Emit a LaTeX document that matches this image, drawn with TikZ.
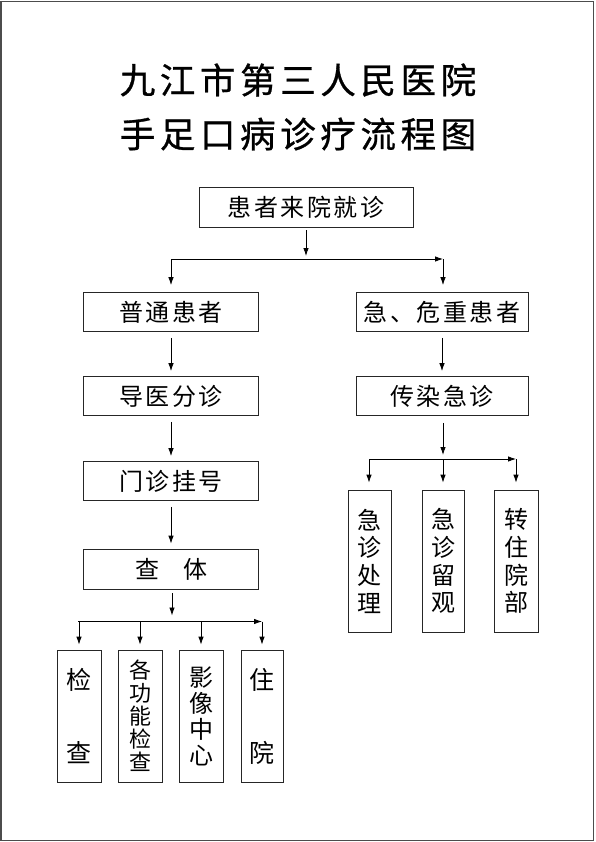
\documentclass[tikz,border=0pt]{standalone}
\usepackage{fontspec}
\setmainfont{Noto Sans CJK SC}
\newfontfamily\boxfont[LetterSpace=11]{Noto Sans CJK SC}
\newfontfamily\titlefont[LetterSpace=13,FakeBold=0.8]{Noto Sans CJK SC}
\usetikzlibrary{arrows.meta}

\begin{document}
\begin{tikzpicture}[x=1pt,y=-1pt,
  stepbox/.style={draw=black!85,line width=0.8pt,inner sep=0pt},
  widebox/.style={stepbox,minimum width=175pt,minimum height=39pt,
    font=\boxfont\fontsize{24}{28}\selectfont},
  tallbox/.style={stepbox,minimum width=44pt,align=center},
  flow/.style={-{Latex[length=8pt,width=5.5pt]},line width=0.8pt},
  title/.style={font=\titlefont\fontsize{35.5}{40}\selectfont}]
  \useasboundingbox (0,0) rectangle (595,842);
  \draw[black!70,line width=1.3pt] (1,1.5) rectangle (593.5,840.5);
  % title
  \node[title] (title1) at (298,80) {九江市第三人民医院};
  \node[title] (title2) at (298,134) {手足口病诊疗流程图};
  % first level
  \node[widebox,minimum width=214pt,minimum height=40pt] (visit) at (306,207) {患者来院就诊};
  \node[widebox] (common) at (171,312) {普通患者};
  \node[widebox,minimum width=172pt] (severe) at (442,312) {急、危重患者};
  % left column
  \node[widebox] (guide) at (171,396) {导医分诊};
  \node[widebox] (register) at (171,481) {门诊挂号};
  \node[widebox,minimum height=40pt] (exam) at (171,569) {查\hspace{1em}体};
  % right column
  \node[widebox,minimum width=172pt] (infect) at (442,396) {传染急诊};
  % bottom boxes
  \node[tallbox,minimum height=132pt,font=\fontsize{25}{73}\selectfont] (lab) at (79,716) {检\\查};
  \node[tallbox,minimum height=132pt,font=\fontsize{22}{23}\selectfont] (func) at (140,716) {各\\功\\能\\检\\查};
  \node[tallbox,minimum height=132pt,font=\fontsize{24}{26}\selectfont] (imaging) at (201,716) {影\\像\\中\\心};
  \node[tallbox,minimum height=132pt,minimum width=42pt,font=\fontsize{25}{73}\selectfont] (inpat) at (262,716) {住\\院};
  % emergency boxes
  \node[tallbox,minimum height=142pt,minimum width=43pt,font=\fontsize{24}{27.7}\selectfont] (emtreat) at (369.5,561) {急\\诊\\处\\理};
  \node[tallbox,minimum height=142pt,minimum width=42pt,font=\fontsize{24}{27.7}\selectfont] (emobs) at (443,561) {急\\诊\\留\\观};
  \node[tallbox,minimum height=142pt,font=\fontsize{24}{27.7}\selectfont] (transfer) at (516,561) {转\\住\\院\\部};
  % fork points
  \coordinate (fork1) at (306,259);
  \coordinate (fork1l) at (171,259);
  \coordinate (fork1r) at (443,259);
  \coordinate (fork2) at (443,459);
  \coordinate (fork2l) at (369,459);
  \coordinate (fork2r) at (516,459);
  \coordinate (fork3) at (172,621.5);
  \coordinate (fork3l) at (78,621.5);
  \coordinate (fork3r) at (262,621.5);
  % connectors
  \draw[flow,shorten <=3pt,shorten >=3pt] (visit.south) -- (fork1);
  \draw[flow] (fork1l) -- (fork1r);
  \draw[flow,shorten >=7pt] (fork1l) -- (fork1l |- common.north);
  \draw[flow,shorten >=7pt] (fork1r) -- (fork1r |- severe.north);
  \draw[flow,shorten <=6pt,shorten >=5pt] (common) -- (guide);
  \draw[flow,shorten <=6pt,shorten >=5pt] (guide) -- (register);
  \draw[flow,shorten <=6pt,shorten >=5pt] (register) -- (exam);
  \draw[flow,shorten <=6pt,shorten >=5pt] (severe) -- (infect);
  \draw[flow,shorten <=7pt,shorten >=4pt] (infect.south -| fork2) -- (fork2);
  \draw[flow] (fork2l) -- (fork2r);
  \foreach \b/\f in {emtreat/fork2l,emobs/fork2,transfer/fork2r}
    \draw[flow,shorten >=7pt] (\f) -- (\f |- \b.north);
  \draw[flow,shorten <=4pt,shorten >=6pt] (exam.south -| fork3) -- (fork3);
  \draw[flow] (fork3l) -- (fork3r);
  \foreach \b in {lab,func,imaging,inpat}
    \draw[flow,shorten >=5pt] (\b.north |- fork3) -- (\b.north);
\end{tikzpicture}
\end{document}
